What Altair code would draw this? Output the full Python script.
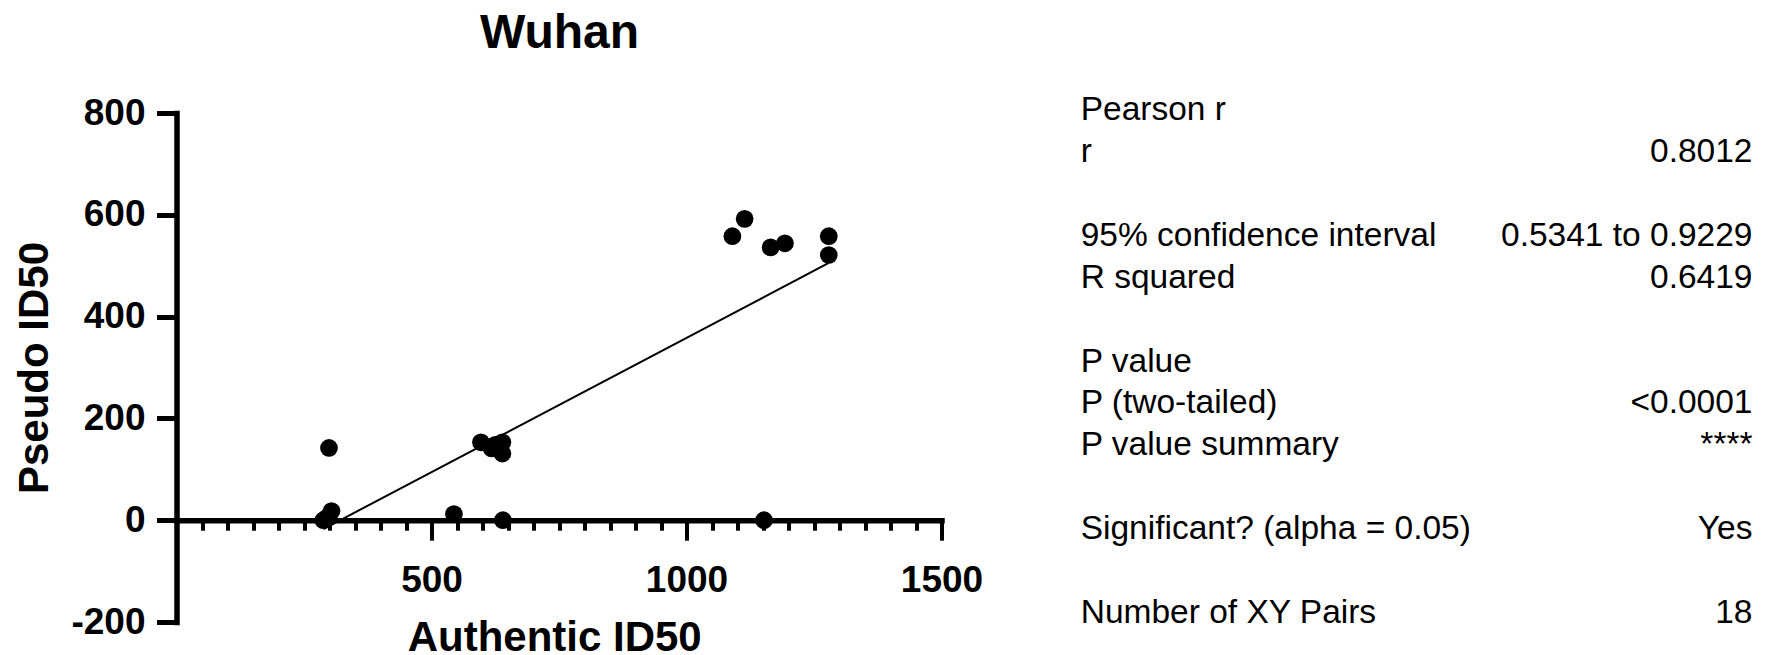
import altair as alt
import pandas as pd

# Paired neutralisation titres (18 samples)
authentic_id50 = [299, 304, 288, 295, 544, 640, 1152, 597, 618, 639, 639, 625,
                  1114, 1090, 1165, 1193, 1279, 1279]
pseudo_id50 = [142, 18, 0, 5, 12, 0, 0, 153, 141, 153, 131, 148,
               592, 558, 536, 544, 558, 521]

# Correlation summary table
stat_labels = ["Pearson r", "r", "", "95% confidence interval", "R squared", "",
               "P value", "P (two-tailed)", "P value summary", "",
               "Significant? (alpha = 0.05)", "", "Number of XY Pairs"]
stat_values = ["", "0.8012", "", "0.5341 to 0.9229", "0.6419", "",
               "", "<0.0001", "****", "", "Yes", "", "18"]

chart_title = "Wuhan"
x_ticks = list(range(50, 1501, 50))
y_ticks = [-200, 0, 200, 400, 600, 800]

FONT = "Liberation Sans"
W, H = 765, 509
LEFT, TOP = 176.5, 113
Y_MIN, Y_MAX = -200, 800

pts = pd.DataFrame({"Authentic ID50": authentic_id50, "Pseudo ID50": pseudo_id50})
stats = pd.DataFrame({"row": list(range(len(stat_labels))),
                      "label": stat_labels, "value": stat_values})

x_scale = alt.Scale(domain=[0, 1500], nice=False, zero=False)
y_scale = alt.Scale(domain=[Y_MIN, Y_MAX], nice=False, zero=False)

# x axis sits on y = 0
zero_offset = -H * (0 - Y_MIN) / (Y_MAX - Y_MIN)

x_axis = alt.Axis(
    values=x_ticks,
    format="d",
    labelExpr="datum.value % 500 === 0 ? datum.label : ''",
    tickSize={"condition": {"test": "datum.value % 500 === 0", "value": 20}, "value": 10},
    tickWidth=4, tickColor="black",
    domainWidth=5.5, domainColor="black", domainCap="square",
    labelFont=FONT, labelFontSize=37, labelFontWeight="bold", labelColor="black",
    labelPadding=22, labelFlush=False, labelOverlap=False,
    offset=zero_offset, grid=False,
    title="Authentic ID50", titleFont=FONT, titleFontSize=42, titleFontWeight="bold",
    titleColor="black", titleX=377.7, titleY=129.8, titleAlign="center",
    titleBaseline="alphabetic",
)

y_axis = alt.Axis(
    values=y_ticks,
    labelExpr="datum.value < 0 ? '-' + abs(datum.value) : '' + datum.value",
    tickSize=20, tickWidth=5, tickColor="black",
    domainWidth=5.5, domainColor="black", domainCap="square",
    labelFont=FONT, labelFontSize=37, labelFontWeight="bold", labelColor="black",
    labelPadding=11.5, labelFlush=False, labelOverlap=False, grid=False,
    title="Pseudo ID50", titleFont=FONT, titleFontSize=42, titleFontWeight="bold",
    titleColor="black", titleX=-129.5, titleY=H / 2, titleAngle=270,
    titleAlign="center", titleBaseline="alphabetic",
)

base = alt.Chart(pts).encode(
    x=alt.X("Authentic ID50:Q", scale=x_scale, axis=x_axis),
    y=alt.Y("Pseudo ID50:Q", scale=y_scale, axis=y_axis),
)

fit = base.transform_regression("Authentic ID50", "Pseudo ID50").mark_line(
    color="black", strokeWidth=2
)
dots = base.mark_circle(size=314, color="black", opacity=1)

plot = alt.layer(fit, dots)

# Summary table: one row per line, laid out to the right of the plot
ROW_STEP, ROW0 = 41.87, 7.3
row_scale = alt.Scale(domain=[-ROW0 / ROW_STEP, (H - ROW0) / ROW_STEP],
                      reverse=True, nice=False, zero=False)
table_base = alt.Chart(stats).encode(
    y=alt.Y("row:Q", scale=row_scale, axis=None)
)
label_text = table_base.mark_text(
    align="left", baseline="alphabetic", font=FONT, fontSize=33.5, color="black"
).encode(x=alt.value(1080.7 - LEFT), text="label:N")
value_text = table_base.mark_text(
    align="right", baseline="alphabetic", font=FONT, fontSize=33.5, color="black"
).encode(x=alt.value(1752.5 - LEFT), text="value:N")

table = alt.layer(label_text, value_text)

# Chart heading centred over the plot
heading = alt.Chart(pd.DataFrame({"t": [chart_title]})).mark_text(
    align="center", baseline="alphabetic", font=FONT, fontSize=48,
    fontWeight="bold", color="black"
).encode(x=alt.value(559.5 - LEFT), y=alt.value(48 - TOP), text="t:N")

chart = alt.layer(plot, table, heading).resolve_scale(y="independent").properties(
    width=W,
    height=H,
    autosize=alt.AutoSizeParams(type="none"),
    padding={"left": LEFT, "top": TOP, "right": 1769 - LEFT - W, "bottom": 655 - TOP - H},
).configure_view(stroke=None)

chart.save("out.html", embed_options={"renderer": "svg", "actions": False})
